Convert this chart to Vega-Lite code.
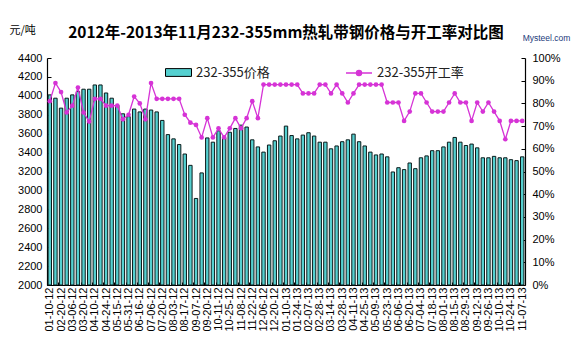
{
  "$schema": "https://vega.github.io/schema/vega-lite/v6.json",
  "width": 478,
  "height": 227,
  "autosize": {"type": "none"},
  "padding": {"left": 47, "top": 58, "right": 46, "bottom": 73},
  "background": "white",
  "title": {
    "text": "2012年-2013年11月232-355mm热轧带钢价格与开工率对比图",
    "anchor": "middle",
    "frame": "group",
    "font": "Noto Sans CJK SC",
    "fontSize": 15.5,
    "fontWeight": "bold",
    "color": "#000000",
    "baseline": "middle",
    "offset": -24
  },
  "config": {
    "view": {"stroke": null},
    "axis": {"grid": false, "labelFont": "Liberation Sans", "labelColor": "#000000", "domainColor": "#000000", "tickColor": "#000000"},
    "legend": {"padding": 0}
  },
  "data": {
    "values": [
      {"d": "01-10-12", "p": 4010, "r": 81},
      {"d": "02-13-12", "p": 3975, "r": 89},
      {"d": "02-20-12", "p": 3870, "r": 85},
      {"d": "02-27-12", "p": 3975, "r": 76},
      {"d": "03-06-12", "p": 4010, "r": 79},
      {"d": "03-13-12", "p": 4045, "r": 87},
      {"d": "03-20-12", "p": 4070, "r": 76},
      {"d": "04-01-12", "p": 4070, "r": 72},
      {"d": "04-10-12", "p": 4115, "r": 82},
      {"d": "04-17-12", "p": 4115, "r": 82},
      {"d": "04-24-12", "p": 4030, "r": 79},
      {"d": "05-08-12", "p": 3975, "r": 79},
      {"d": "05-15-12", "p": 3900, "r": 79},
      {"d": "05-22-12", "p": 3810, "r": 73},
      {"d": "05-31-12", "p": 3780, "r": 75},
      {"d": "06-07-12", "p": 3860, "r": 83},
      {"d": "06-16-12", "p": 3830, "r": 80},
      {"d": "06-26-12", "p": 3860, "r": 73},
      {"d": "07-06-12", "p": 3850, "r": 89},
      {"d": "07-13-12", "p": 3830, "r": 82},
      {"d": "07-20-12", "p": 3740, "r": 82},
      {"d": "07-27-12", "p": 3590, "r": 82},
      {"d": "08-03-12", "p": 3545, "r": 82},
      {"d": "08-10-12", "p": 3485, "r": 82},
      {"d": "08-17-12", "p": 3385, "r": 75},
      {"d": "08-24-12", "p": 3265, "r": 71.5},
      {"d": "09-07-12", "p": 2915, "r": 70.5},
      {"d": "09-14-12", "p": 3185, "r": 65},
      {"d": "09-20-12", "p": 3555, "r": 73.5},
      {"d": "09-27-12", "p": 3510, "r": 65},
      {"d": "10-11-12", "p": 3630, "r": 69},
      {"d": "10-18-12", "p": 3555, "r": 65},
      {"d": "10-25-12", "p": 3615, "r": 69},
      {"d": "11-01-12", "p": 3655, "r": 73.5},
      {"d": "11-08-12", "p": 3690, "r": 69},
      {"d": "11-15-12", "p": 3670, "r": 73.5},
      {"d": "11-22-12", "p": 3535, "r": 81},
      {"d": "11-29-12", "p": 3460, "r": 73.5},
      {"d": "12-06-12", "p": 3405, "r": 88.3},
      {"d": "12-13-12", "p": 3480, "r": 88.3},
      {"d": "12-20-12", "p": 3525, "r": 88.3},
      {"d": "12-27-12", "p": 3575, "r": 88.3},
      {"d": "01-10-13", "p": 3680, "r": 88.3},
      {"d": "01-17-13", "p": 3580, "r": 88.3},
      {"d": "01-24-13", "p": 3545, "r": 88.3},
      {"d": "01-31-13", "p": 3585, "r": 84.4},
      {"d": "02-07-13", "p": 3610, "r": 84.4},
      {"d": "02-21-13", "p": 3575, "r": 84.4},
      {"d": "02-28-13", "p": 3510, "r": 88.3},
      {"d": "03-07-13", "p": 3510, "r": 88.3},
      {"d": "03-14-13", "p": 3440, "r": 84.4},
      {"d": "03-21-13", "p": 3470, "r": 88.3},
      {"d": "03-28-13", "p": 3515, "r": 84.4},
      {"d": "04-03-13", "p": 3535, "r": 80.4},
      {"d": "04-11-13", "p": 3595, "r": 84.4},
      {"d": "04-18-13", "p": 3515, "r": 88.3},
      {"d": "04-25-13", "p": 3470, "r": 88.3},
      {"d": "05-02-13", "p": 3405, "r": 88.3},
      {"d": "05-09-13", "p": 3375, "r": 88.3},
      {"d": "05-16-13", "p": 3385, "r": 88.3},
      {"d": "05-23-13", "p": 3355, "r": 80.4},
      {"d": "05-30-13", "p": 3195, "r": 80.4},
      {"d": "06-06-13", "p": 3240, "r": 80.4},
      {"d": "06-13-13", "p": 3220, "r": 72.3},
      {"d": "06-20-13", "p": 3290, "r": 76.4},
      {"d": "06-27-13", "p": 3230, "r": 84.4},
      {"d": "07-04-13", "p": 3345, "r": 84.4},
      {"d": "07-11-13", "p": 3365, "r": 80.4},
      {"d": "07-18-13", "p": 3420, "r": 76.4},
      {"d": "07-25-13", "p": 3420, "r": 76.4},
      {"d": "08-01-13", "p": 3460, "r": 76.4},
      {"d": "08-08-13", "p": 3510, "r": 80.4},
      {"d": "08-15-13", "p": 3560, "r": 84.4},
      {"d": "08-22-13", "p": 3510, "r": 80.4},
      {"d": "08-29-13", "p": 3475, "r": 80.4},
      {"d": "09-05-13", "p": 3490, "r": 72.3},
      {"d": "09-12-13", "p": 3450, "r": 80.4},
      {"d": "09-19-13", "p": 3345, "r": 76.4},
      {"d": "09-26-13", "p": 3345, "r": 80.4},
      {"d": "10-03-13", "p": 3360, "r": 76.4},
      {"d": "10-10-13", "p": 3345, "r": 72.3},
      {"d": "10-17-13", "p": 3345, "r": 64.2},
      {"d": "10-24-13", "p": 3325, "r": 72.3},
      {"d": "10-31-13", "p": 3315, "r": 72.3},
      {"d": "11-07-13", "p": 3355, "r": 72.3}
    ]
  },
  "encoding": {
    "x": {
      "field": "d",
      "type": "nominal",
      "sort": null,
      "scale": {"paddingInner": 0.4, "paddingOuter": 0.2},
      "axis": {
        "title": null,
        "values": ["01-10-12","02-20-12","03-06-12","03-20-12","04-10-12","04-24-12","05-15-12","05-31-12","06-16-12","07-06-12","07-20-12","08-03-12","08-17-12","09-07-12","09-20-12","10-11-12","10-25-12","11-08-12","11-22-12","12-06-12","12-20-12","01-10-13","01-24-13","02-07-13","02-28-13","03-14-13","03-28-13","04-11-13","04-25-13","05-09-13","05-23-13","06-06-13","06-20-13","07-04-13","07-18-13","08-01-13","08-15-13","08-29-13","09-12-13","09-26-13","10-10-13","10-24-13","11-07-13"],
        "labelAngle": 270,
        "labelFontSize": 11,
        "labelOverlap": false,
        "labelPadding": 5,
        "tickSize": -3,
        "tickOffset": -2.8,
        "labelOffset": 2.8,
        "domainWidth": 1.2
      }
    }
  },
  "layer": [
    {
      "mark": {"type": "bar", "stroke": "#0a1a1a", "strokeWidth": 1},
      "encoding": {
        "y": {
          "field": "p",
          "type": "quantitative",
          "scale": {"domain": [2000, 4400], "zero": false, "nice": false},
          "axis": {
            "values": [2000,2200,2400,2600,2800,3000,3200,3400,3600,3800,4000,4200,4400],
            "format": "d",
            "labelFontSize": 11,
            "labelPadding": 9,
            "tickSize": -4,
            "domainWidth": 1.2,
            "title": "元/吨",
            "titleFont": "Noto Sans CJK SC",
            "titleFontSize": 11,
            "titleFontWeight": "normal",
            "titleColor": "#000000",
            "titleAngle": 0,
            "titleAlign": "left",
            "titleBaseline": "middle",
            "titleX": -38,
            "titleY": -28
          }
        },
        "y2": {"datum": 2000},
        "fill": {
          "datum": "232-355价格",
          "type": "nominal",
          "scale": {"range": ["#55D0D0"]},
          "legend": {
            "title": null,
            "orient": "none",
            "legendX": 118,
            "legendY": 1,
            "symbolType": "M-1,-0.3H1V0.3H-1Z",
            "symbolSize": 676,
            "symbolStrokeColor": "#000000",
            "symbolStrokeWidth": 1,
            "labelFont": "Noto Sans CJK SC",
            "labelFontSize": 13,
            "labelColor": "#222222",
            "labelOffset": 4
          }
        }
      }
    },
    {
      "mark": {"type": "line", "strokeWidth": 1.3},
      "encoding": {
        "y": {
          "field": "r",
          "type": "quantitative",
          "scale": {"domain": [0, 100], "nice": false},
          "axis": {
            "orient": "right",
            "values": [0,10,20,30,40,50,60,70,80,90,100],
            "labelExpr": "datum.value + '%'",
            "labelFontSize": 11,
            "labelPadding": 11,
            "tickSize": -4,
            "domainWidth": 1.2,
            "title": "Mysteel.com",
            "titleFont": "Liberation Sans",
            "titleFontSize": 8.5,
            "titleFontWeight": "normal",
            "titleColor": "#1b3a7a",
            "titleAngle": 0,
            "titleAlign": "center",
            "titleBaseline": "middle",
            "titleX": 21,
            "titleY": -21
          }
        },
        "stroke": {
          "datum": "232-355开工率",
          "type": "nominal",
          "scale": {"range": ["#D633D6"]},
          "legend": {
            "title": null,
            "orient": "none",
            "legendX": 298,
            "legendY": 1,
            "symbolType": "M-1,0H1M-0.2,0A0.2,0.2 0 1,0 0.2,0A0.2,0.2 0 1,0 -0.2,0Z",
            "symbolSize": 676,
            "symbolStrokeWidth": 1.3,
            "labelFont": "Noto Sans CJK SC",
            "labelFontSize": 13,
            "labelColor": "#222222",
            "labelOffset": 4,
            "encode": {"symbols": {"update": {"fill": {"value": "#D633D6"}, "stroke": {"value": "#D633D6"}}}}
          }
        }
      }
    },
    {
      "mark": {"type": "point", "filled": true, "size": 22, "color": "#D633D6", "opacity": 1},
      "encoding": {
        "y": {
          "field": "r",
          "type": "quantitative",
          "scale": {"domain": [0, 100], "nice": false},
          "axis": null
        }
      }
    }
  ],
  "resolve": {"scale": {"y": "independent"}}
}
